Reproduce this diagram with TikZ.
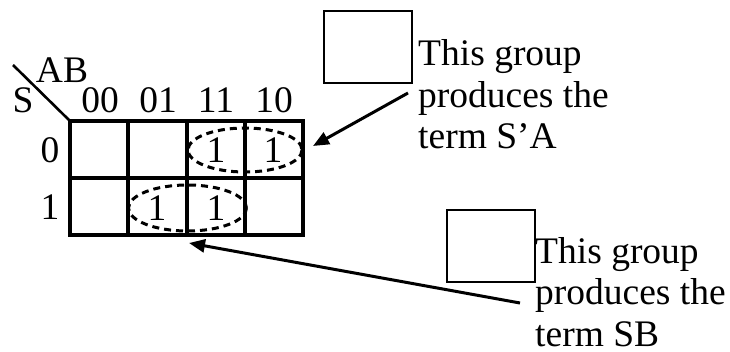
\documentclass[tikz,border=0pt]{standalone}
\usepackage{fontspec}
\setmainfont{Liberation Serif}
\usetikzlibrary{arrows.meta}
\begin{document}
\begin{tikzpicture}[x=1pt,y=-1pt,
  lbl/.style={inner sep=0pt,font=\fontsize{37.5}{41.5}\selectfont},
  txt/.style={lbl,align=left,anchor=north west},
  grp/.style={draw,line width=3pt,dash pattern=on 7pt off 5pt},
  gridline/.style={line width=3.2pt},
  boxst/.style={draw,line width=2.2pt,inner sep=0pt,minimum width=88pt,minimum height=72pt},
  arr/.style={line width=3pt,-{Triangle[length=16pt,width=13pt]}}]
\useasboundingbox (0,0) rectangle (730,352);
% grid
\draw[gridline] (70,121) rectangle (303,235);
\draw[gridline] (70,178) -- (303,178);
\draw[gridline] (128,121) -- (128,235);
\draw[gridline] (187,121) -- (187,235);
\draw[gridline] (245,121) -- (245,235);
\draw[line width=2.6pt] (13,65) -- (70,121);
% headers
\node[lbl,anchor=base] (ab) at (62,83) {AB};
\node[lbl,anchor=base] (s) at (23,113) {S};
\node[lbl,anchor=base] (c00) at (100,113) {00};
\node[lbl,anchor=base] (c01) at (158,113) {01};
\node[lbl,anchor=base] (c11) at (216,113) {11};
\node[lbl,anchor=base] (c10) at (274,113) {10};
\node[lbl] (r0) at (50,150) {0};
\node[lbl] (r1) at (50,207) {1};
% ones
\node[lbl] (o011) at (216,150) {1};
\node[lbl] (o010) at (273,150) {1};
\node[lbl] (o101) at (157,208) {1};
\node[lbl] (o111) at (216,208) {1};
% groups
\draw[grp] (245,150) ellipse [x radius=57, y radius=22];
\draw[grp] (187.5,208) ellipse [x radius=59, y radius=23];
% boxes and texts
\node[boxst,anchor=north west] (box1) at (323,10) {};
\node[boxst,anchor=north west] (box2) at (446,209) {};
\node[txt] (t1) at (418,39.5) {This group\\produces the\\term S’A};
\node[txt] (t2) at (535,237) {This group\\produces the\\term SB};
\coordinate (a1s) at (408,93);
\coordinate (a1e) at (313,146);
\coordinate (a2s) at (520,303);
\coordinate (a2e) at (189,243);
\draw[arr] (a1s) -- (a1e);
\draw[arr] (a2s) -- (a2e);
\end{tikzpicture}
\end{document}
